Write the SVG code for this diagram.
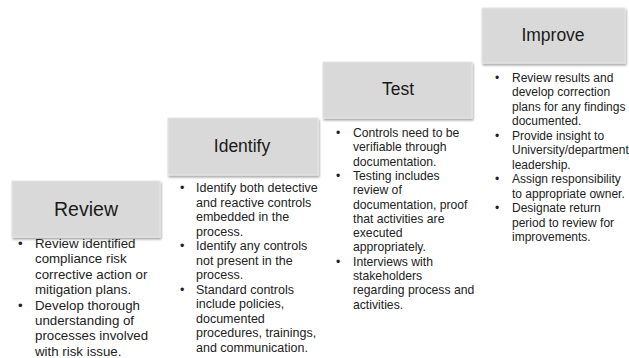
<svg xmlns="http://www.w3.org/2000/svg" width="629" height="358" viewBox="0 0 629 358">
  <defs>
    <filter id="shadow" x="-10%" y="-10%" width="125%" height="130%">
      <feGaussianBlur in="SourceAlpha" stdDeviation="1"/>
      <feOffset dx="1" dy="2"/>
      <feComponentTransfer><feFuncA type="linear" slope="0.35"/></feComponentTransfer>
      <feMerge><feMergeNode/><feMergeNode in="SourceGraphic"/></feMerge>
    </filter>
  </defs>
  <style>
    .box { fill: #d9d9d9; stroke: #e4e4e4; stroke-width: 1; filter: url(#shadow); }
    .title { font-family: "Liberation Sans", Arial, sans-serif; font-size: 17.5px; fill: #1a1a1a; text-anchor: middle; }
    .body { font-family: "Liberation Sans", Arial, sans-serif; font-size: 12.2px; fill: #222; }
  </style>
  <rect width="629" height="358" fill="#ffffff"/>

  <!-- Step 1 -->
  <g id="review">
    <rect class="box" x="12" y="181" width="148" height="56"/>
    <text class="title" x="86" y="216" style="font-size:19.5px">Review</text>
    <text class="body" style="font-size:13.3px">
      <tspan x="18" y="248">•</tspan><tspan x="35" y="248">Review identified</tspan>
      <tspan x="35" y="263.4">compliance risk</tspan>
      <tspan x="35" y="278.8">corrective action or</tspan>
      <tspan x="35" y="294.2">mitigation plans.</tspan>
      <tspan x="18" y="309.6">•</tspan><tspan x="35" y="309.6">Develop thorough</tspan>
      <tspan x="35" y="325">understanding of</tspan>
      <tspan x="35" y="340.4">processes involved</tspan>
      <tspan x="35" y="355.8">with risk issue.</tspan>
    </text>
  </g>

  <!-- Step 2 -->
  <g id="identify">
    <rect class="box" x="168" y="118" width="150" height="57"/>
    <text class="title" x="242" y="152">Identify</text>
    <text class="body" style="font-size:12.5px">
      <tspan x="180" y="192">•</tspan><tspan x="196" y="192">Identify both detective</tspan>
      <tspan x="196" y="206.5">and reactive controls</tspan>
      <tspan x="196" y="221">embedded in the</tspan>
      <tspan x="196" y="235.5">process.</tspan>
      <tspan x="180" y="250">•</tspan><tspan x="196" y="250">Identify any controls</tspan>
      <tspan x="196" y="264.5">not present in the</tspan>
      <tspan x="196" y="279">process.</tspan>
      <tspan x="180" y="293.5">•</tspan><tspan x="196" y="293.5">Standard controls</tspan>
      <tspan x="196" y="308">include policies,</tspan>
      <tspan x="196" y="322.5">documented</tspan>
      <tspan x="196" y="337">procedures, trainings,</tspan>
      <tspan x="196" y="351.5">and communication.</tspan>
    </text>
  </g>

  <!-- Step 3 -->
  <g id="test">
    <rect class="box" x="323" y="62" width="149" height="56"/>
    <text class="title" x="398" y="95">Test</text>
    <text class="body">
      <tspan x="336" y="137">•</tspan><tspan x="353" y="137">Controls need to be</tspan>
      <tspan x="353" y="151.3">verifiable through</tspan>
      <tspan x="353" y="165.6">documentation.</tspan>
      <tspan x="336" y="179.9">•</tspan><tspan x="353" y="179.9">Testing includes</tspan>
      <tspan x="353" y="194.2">review of</tspan>
      <tspan x="353" y="208.5">documentation, proof</tspan>
      <tspan x="353" y="222.8">that activities are</tspan>
      <tspan x="353" y="237.1">executed</tspan>
      <tspan x="353" y="251.4">appropriately.</tspan>
      <tspan x="336" y="265.7">•</tspan><tspan x="353" y="265.7">Interviews with</tspan>
      <tspan x="353" y="280">stakeholders</tspan>
      <tspan x="353" y="294.3">regarding process and</tspan>
      <tspan x="353" y="308.6">activities.</tspan>
    </text>
  </g>

  <!-- Step 4 -->
  <g id="improve">
    <rect class="box" x="482" y="8" width="143" height="55"/>
    <text class="title" x="553" y="41">Improve</text>
    <text class="body" style="font-size:12px">
      <tspan x="495" y="81.5">•</tspan><tspan x="512" y="81.5">Review results and</tspan>
      <tspan x="512" y="96">develop correction</tspan>
      <tspan x="512" y="110.5">plans for any findings</tspan>
      <tspan x="512" y="125">documented.</tspan>
      <tspan x="495" y="139.5">•</tspan><tspan x="512" y="139.5">Provide insight to</tspan>
      <tspan x="512" y="154">University/department</tspan>
      <tspan x="512" y="168.5">leadership.</tspan>
      <tspan x="495" y="183">•</tspan><tspan x="512" y="183">Assign responsibility</tspan>
      <tspan x="512" y="197.5">to appropriate owner.</tspan>
      <tspan x="495" y="212">•</tspan><tspan x="512" y="212">Designate return</tspan>
      <tspan x="512" y="226.5">period to review for</tspan>
      <tspan x="512" y="241">improvements.</tspan>
    </text>
  </g>

  <!-- no connectors in this layout -->
  <g id="connectors"/>
</svg>
